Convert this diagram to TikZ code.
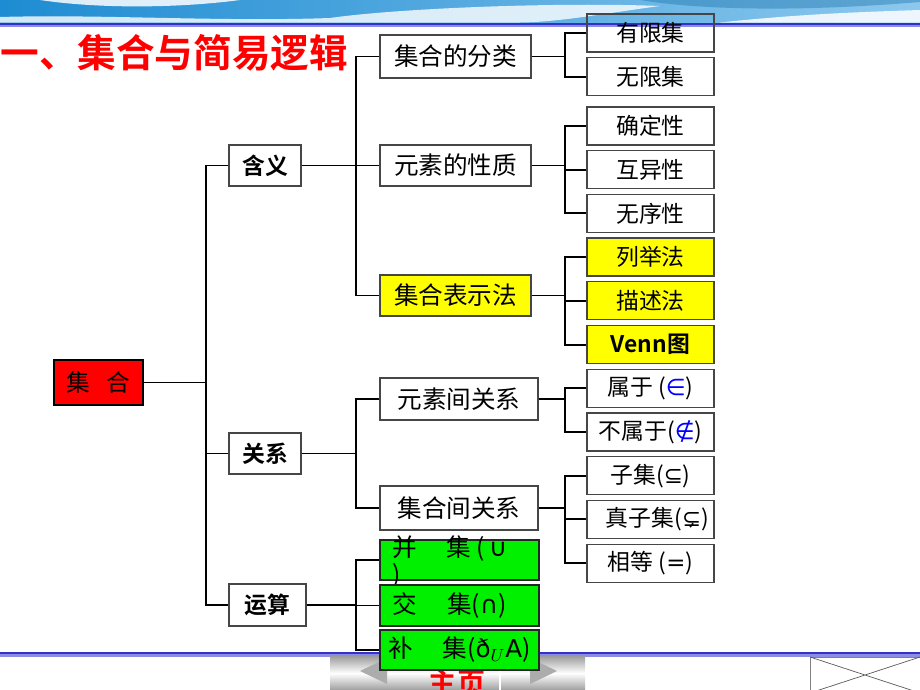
\documentclass[tikz,border=0pt]{standalone}
\usepackage{fontspec}
\setmainfont{Noto Sans CJK SC}[BoldFont={Noto Sans CJK SC Bold}]
\newfontfamily\symf{DejaVu Sans}
\usepackage{tikz}
\usetikzlibrary{positioning}
\definecolor{setred}{RGB}{255,0,0}
\definecolor{setyellow}{RGB}{255,255,0}
\definecolor{setgreen}{RGB}{0,240,0}
\definecolor{barblue}{RGB}{50,50,200}
\definecolor{barlight}{RGB}{140,140,230}
\definecolor{wavedark}{RGB}{30,140,210}
\definecolor{wavelight}{RGB}{140,200,238}
\definecolor{boxline}{RGB}{70,70,70}

\begin{document}
\begin{tikzpicture}[x=0.02cm,y=-0.02cm,node distance=0.09cm,
  main node/.style={draw=boxline, line width=0.7pt, inner sep=0pt, minimum height=0.82cm},
  top node/.style={main node, font=\fontsize{13}{15}\selectfont\bfseries, minimum width=1.44cm},
  mid node/.style={main node, font=\fontsize{14}{16}\selectfont, minimum width=3.02cm},
  leaf node/.style={main node, font=\fontsize{13}{15}\selectfont, minimum width=2.54cm, minimum height=0.76cm},
  op node/.style={mid node, fill=setgreen, draw=black!85, line width=1pt, minimum width=3.18cm, minimum height=0.8cm},
  conn/.style={line width=1.1pt}]
\useasboundingbox (0,0) rectangle (920,690);
\clip (0,0) rectangle (920,690);

% top band
\shade[left color=wavedark, right color=wavelight] (0,0) rectangle (920,22.5);
\fill[white, opacity=.85] (40,0) .. controls (100,9) and (180,8) .. (240,0) -- cycle;
\fill[white, opacity=.8] (0,22.5) -- (0,17) .. controls (100,14) and (220,22) .. (330,18) .. controls (400,8) and (560,2) .. (660,6) .. controls (600,14) and (560,22) .. (520,22.5) -- cycle;
\fill[white, opacity=.85] (720,22.5) .. controls (800,14) and (860,12) .. (920,10) -- (920,22.5) -- cycle;
\fill[wavedark!80!black, opacity=.4] (640,0) .. controls (700,10) and (800,12) .. (920,2) -- (920,0) -- cycle;
\fill[barblue] (0,22.5) rectangle (920,25);
\fill[barlight] (0,25) rectangle (920,27);

% bottom band
\fill[barblue] (0,651.5) rectangle (920,654);
\fill[barlight] (0,654) rectangle (920,656.5);
\shade[top color=gray!75, bottom color=gray!75, middle color=white] (330,656.5) rectangle (585,690);
\fill[gray!65] (360,671) -- (387,658) -- (387,684) -- cycle;
\fill[gray!65] (557,671) -- (530,658) -- (530,684) -- cycle;
\draw[white, line width=1pt] (500,664) -- (500,690);
\node[text=setred, font=\fontsize{16}{18}\selectfont\bfseries] (home) at (457,683) {主页};
\draw[gray] (810,690) -- (810,657) -- (920,657);
\draw[gray!70!black] (810,657) -- (920,693) (810,693) -- (920,657);

% title
\node[anchor=west, inner sep=0pt, text=setred, font=\fontsize{22}{24}\selectfont\bfseries] (title) at (0,52.5) {一、集合与简易逻辑};

% tree
\node[main node, fill=setred, draw=black, line width=1.2pt, minimum width=1.78cm, minimum height=0.9cm, font=\fontsize{13.5}{15}\selectfont] (1) at (98.5,382.5) {集\hspace{0.7em}合};
\node[top node] (2) at (265,165.5) {含义};
\node[top node] (3) at (265,453.5) {关系};
\node[top node, minimum width=1.54cm, minimum height=0.84cm] (4) at (267.5,605) {运算};

\node[mid node, minimum height=0.86cm] (5) at (455.5,56.5) {集合的分类};
\node[mid node] (6) at (455.5,165.5) {元素的性质};
\node[mid node, fill=setyellow] (7) at (455.5,295.5) {集合表示法};
\node[mid node, minimum width=3.16cm, minimum height=0.84cm] (8) at (459,399) {元素间关系};
\node[mid node, minimum width=3.16cm, minimum height=0.88cm] (9) at (459,508) {集合间关系};
\node[op node] (10) at (459.5,560) {};
\node[anchor=west, inner sep=0pt, align=left, font=\fontsize{14}{15.5}\selectfont] (10t) at ([xshift=0.26cm, yshift=-0.04cm]10.west) {并\hspace{1.2em}集~(\,{\symf ∪}\\)};
\node[op node, minimum height=0.82cm] (11) at (459.5,605.5) {交\hspace{1.2em}集({\symf ∩})\hspace{0.8em}\mbox{}};
\node[op node] (12) at (459.5,650) {补\hspace{1.2em}集({\symf ð}$_U${\symf A})};

\node[leaf node] (13) at (650.5,33) {有限集};
\node[leaf node] (14) [below=of 13] {无限集};
\node[leaf node] (15) [below=of 14, yshift=-0.11cm] {确定性};
\node[leaf node] (16) [below=of 15] {互异性};
\node[leaf node] (17) [below=of 16] {无序性};
\node[leaf node, fill=setyellow] (18) [below=of 17] {列举法};
\node[leaf node, fill=setyellow] (19) [below=of 18] {描述法};
\node[leaf node, fill=setyellow, font=\fontsize{13}{15}\selectfont\bfseries] (20) [below=of 19] {Venn图};
\node[leaf node] (21) [below=of 20] {属于 ({\symf\color{blue}∈})};
\node[leaf node] (22) [below=of 21] {不属于({\symf\color{blue}∉})};
\node[leaf node] (23) [below=of 22] {子集({\symf ⊆})};
\node[leaf node] (24) [below=of 23] {\hspace{0.6em}真子集({\symf ⊊})};
\node[leaf node] (25) [below=of 24] {相等 ({\symf =})};

% branch points
\coordinate (j1) at (206,382.5);
\coordinate (j2) at (356,165.5);
\coordinate (j3) at (356,453.5);
\coordinate (j4) at (356,605);
\coordinate (j5) at (565,56.5);
\coordinate (j6) at (565,165.5);
\coordinate (j7) at (565,295.5);
\coordinate (j8) at (565,399);
\coordinate (j9) at (565,508);

\draw[conn] (1.east) -- (j1);
\draw[conn] (2.west) -| (j1) |- (4.west);
\draw[conn] (3.west) -- (3.west -| j1);

\draw[conn] (2.east) -- (j2);
\draw[conn] (5.west) -| (j2) |- (7.west);
\draw[conn] (6.west) -- (6.west -| j2);

\draw[conn] (3.east) -- (j3);
\draw[conn] (8.west) -| (j3) |- (9.west);

\draw[conn] (4.east) -- (j4);
\draw[conn] (10.west) -| (j4) |- (12.west);
\draw[conn] (11.west) -- (11.west -| j4);

\draw[conn] (5.east) -- (j5);
\draw[conn] (13.west) -| (j5) |- (14.west);

\draw[conn] (6.east) -- (j6);
\draw[conn] (15.west) -| (j6) |- (17.west);
\draw[conn] (16.west) -- (16.west -| j6);

\draw[conn] (7.east) -- (j7);
\draw[conn] (18.west) -| (j7) |- (20.west);
\draw[conn] (19.west) -- (19.west -| j7);

\draw[conn] (8.east) -- (j8);
\draw[conn] (21.west) -| (j8) |- (22.west);

\draw[conn] (9.east) -- (j9);
\draw[conn] (23.west) -| (j9) |- (25.west);
\draw[conn] (24.west) -- (24.west -| j9);
\end{tikzpicture}
\end{document}
